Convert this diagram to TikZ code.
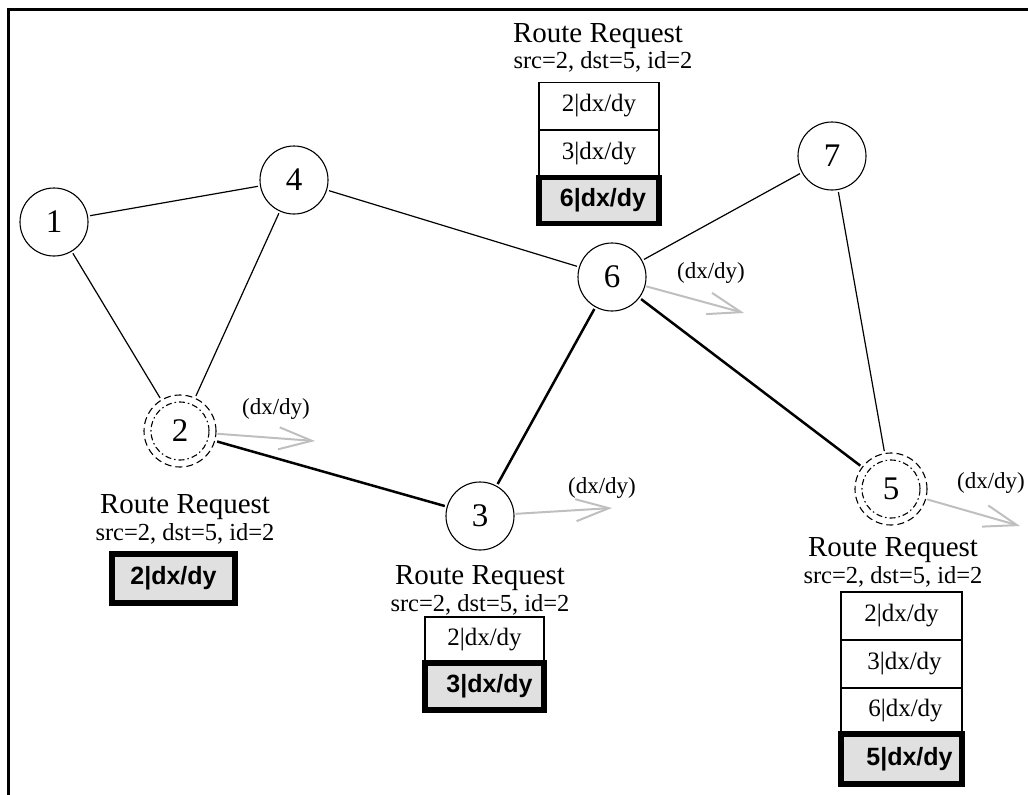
\documentclass[tikz,border=0pt]{standalone}
\usepackage{fontspec}
\setmainfont{Liberation Serif}
\newfontfamily\boxsans{Liberation Sans}
\usetikzlibrary{arrows.meta}
\begin{document}
\begin{tikzpicture}[x=1pt,y=-1pt,
  vertex/.style={circle,draw,line width=1.1pt,inner sep=0pt,minimum size=68pt,font=\fontsize{33}{33}\selectfont},
  dvertex/.style={circle,draw,dashed,dash pattern=on 7pt off 4pt,line width=1.1pt,inner sep=0pt,minimum size=72pt,font=\fontsize{33}{33}\selectfont},
  thinedge/.style={line width=1.2pt,shorten <=2pt,shorten >=2pt},
  thickedge/.style={line width=2.5pt,shorten <=2pt,shorten >=2pt},
  grayarrow/.style={draw=black!25,line width=2pt,-{Straight Barb[length=33pt,width=22pt,line width=2pt]},shorten <=1pt},
  dxlabel/.style={font=\fontsize{23}{23}\selectfont,inner sep=0pt},
  rrlabel/.style={font=\fontsize{29}{29}\selectfont,inner sep=0pt,anchor=base},
  srclabel/.style={font=\fontsize{24.5}{24.5}\selectfont,inner sep=0pt,anchor=base},
  cell/.style={draw,line width=1.2pt,minimum height=47pt,inner sep=0pt,font=\fontsize{25}{25}\selectfont},
  boldcell/.style={draw,line width=5.5pt,fill=black!12,minimum height=46pt,inner sep=0pt,font=\boxsans\bfseries\fontsize{25}{25}\selectfont}
]
\useasboundingbox (0,0) rectangle (1028,795);
\draw[line width=3pt] (8,795) -- (8,9) -- (1028,9);

% nodes
\node[vertex] (n1) at (54,222) {1};
\node[vertex] (n4) at (294,180) {4};
\node[vertex] (n6) at (612,277) {6};
\node[vertex] (n7) at (832,156) {7};
\node[vertex] (n3) at (480,516) {3};
\node[dvertex] (n2) at (180,431) {2};
\node[dvertex] (n5) at (891,489) {5};
\draw[line width=1.1pt,dash pattern=on 6pt off 3pt on 1.5pt off 3pt] (n2.center) circle (29pt);
\draw[line width=1.1pt,dash pattern=on 6pt off 3pt on 1.5pt off 3pt] (n5.center) circle (29pt);

% edges
\draw[thinedge] (n1) -- (n4);
\draw[thinedge] (n1) -- (n2);
\draw[thinedge] (n4) -- (n2);
\draw[thinedge] (n4) -- (n6);
\draw[thinedge] (n6) -- (n7);
\draw[thinedge] (n7) -- (n5);
\draw[thickedge] (n2) -- (n3);
\draw[thickedge] (n3) -- (n6);
\draw[thickedge] (n6) -- (n5);

% movement arrows
\coordinate (a2) at (315,441);
\coordinate (a3) at (612,508);
\coordinate (a6) at (744,313);
\coordinate (a5) at (1020,526);
\draw[grayarrow] (n2) -- (a2);
\draw[grayarrow] (n3) -- (a3);
\draw[grayarrow] (n6) -- (a6);
\draw[grayarrow] (n5) -- (a5);
\node[dxlabel] (d2) at (276,409) {(dx/dy)};
\node[dxlabel] (d3) at (602,488) {(dx/dy)};
\node[dxlabel] (d6) at (711,273) {(dx/dy)};
\node[dxlabel] (d5) at (991,483) {(dx/dy)};

% top request (node 6)
\node[rrlabel] (rr6) at (598,42) {Route Request};
\node[srclabel] (src6) at (603,68) {src=2, dst=5, id=2};
\node[cell,minimum width=120pt] (c6a) at (599,106) {2|dx/dy};
\node[cell,minimum width=120pt] (c6b) at (599,153.5) {3|dx/dy};
\node[boldcell,minimum width=120pt] (c6c) at (599,200.5) {\hspace{8pt}6|dx/dy};

% node 2 request
\node[rrlabel] (rr2) at (185,513) {Route Request};
\node[srclabel] (src2) at (185,540) {src=2, dst=5, id=2};
\node[boldcell,minimum width=123pt,minimum height=49pt] (c2a) at (173.5,578.5) {2|dx/dy};

% node 3 request
\node[rrlabel] (rr3) at (480,584) {Route Request};
\node[srclabel] (src3) at (480,611) {src=2, dst=5, id=2};
\node[cell,minimum width=119pt,minimum height=46pt] (c3a) at (484.5,640) {2|dx/dy};
\node[boldcell,minimum width=119pt,minimum height=47pt] (c3b) at (484.5,686.5) {\hspace{10pt}3|dx/dy};

% node 5 request
\node[rrlabel] (rr5) at (893,556) {Route Request};
\node[srclabel] (src5) at (893,583) {src=2, dst=5, id=2};
\node[cell,minimum width=121pt,minimum height=48pt] (c5a) at (901.5,616) {2|dx/dy};
\node[cell,minimum width=121pt,minimum height=48pt] (c5b) at (901.5,664) {\hspace{6pt}3|dx/dy};
\node[cell,minimum width=121pt,minimum height=46pt] (c5c) at (901.5,711) {\hspace{8pt}6|dx/dy};
\node[boldcell,minimum width=121pt,minimum height=50pt] (c5d) at (901.5,759) {\hspace{16pt}5|dx/dy};
\end{tikzpicture}
\end{document}
